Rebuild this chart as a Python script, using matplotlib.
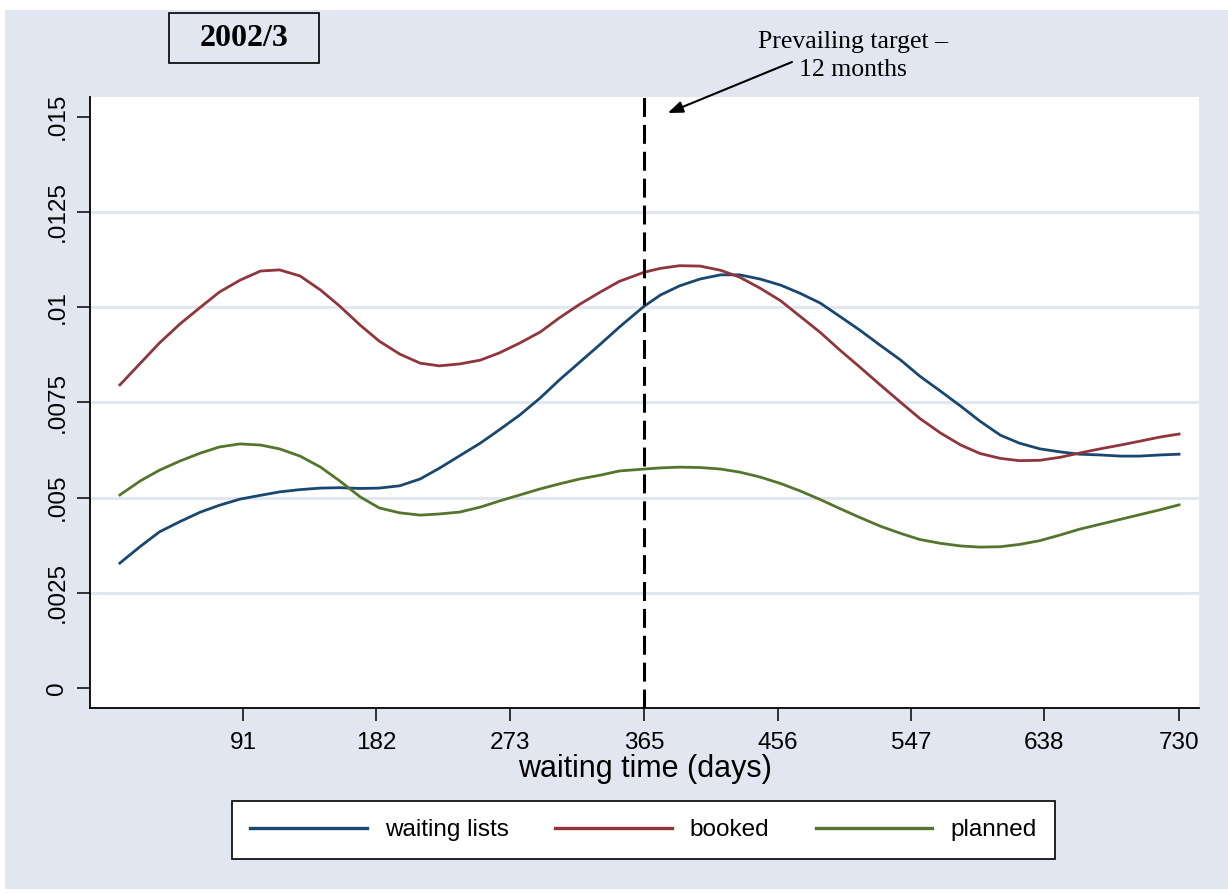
import matplotlib
matplotlib.use('Agg')
import matplotlib.pyplot as plt
from matplotlib.patches import Rectangle

# Dichtekurven 2002/3, Werte
days = [7, 21, 34, 48, 62, 75, 89, 103, 116, 130, 144, 157, 171, 184, 198, 212,
        225, 239, 253, 266, 280, 294, 307, 321, 335, 348, 365, 376, 389, 403, 417,
        430, 444, 458, 471, 485, 498, 512, 526, 540, 553, 567, 581, 594, 608, 621,
        635, 649, 662, 676, 690, 703, 717, 730]

waiting_lists = [0.00328, 0.00372, 0.0041, 0.00437, 0.00462, 0.0048, 0.00496, 0.00506,
                 0.00515, 0.00521, 0.00525, 0.00526, 0.00524, 0.00525, 0.00531, 0.00549,
                 0.00577, 0.0061, 0.00643, 0.00678, 0.00717, 0.00762, 0.00809, 0.00856,
                 0.00903, 0.00948, 0.01003, 0.01032, 0.01056, 0.01074, 0.01085, 0.01085,
                 0.01074, 0.01058, 0.01037, 0.01011, 0.00977, 0.0094, 0.009, 0.00861,
                 0.00819, 0.0078, 0.0074, 0.00701, 0.00664, 0.00643, 0.00628, 0.0062,
                 0.00614, 0.00612, 0.00609, 0.00609, 0.00612, 0.00614]

booked = [0.00796, 0.00853, 0.00906, 0.00956, 0.01, 0.0104, 0.01071, 0.01095,
          0.01098, 0.01082, 0.01045, 0.01003, 0.00953, 0.00911, 0.00877, 0.00853,
          0.00846, 0.00851, 0.00861, 0.0088, 0.00906, 0.00935, 0.00972, 0.01008,
          0.0104, 0.01068, 0.01092, 0.01102, 0.01109, 0.01108, 0.01097, 0.01079,
          0.0105, 0.01017, 0.00977, 0.00934, 0.00889, 0.00843, 0.00796, 0.0075,
          0.00708, 0.0067, 0.00638, 0.00616, 0.00603, 0.00597, 0.00598, 0.00606,
          0.00617, 0.00628, 0.00638, 0.00648, 0.00659, 0.00667]

planned = [0.00507, 0.00544, 0.00572, 0.00596, 0.00617, 0.00633, 0.00641, 0.00638,
           0.00628, 0.00609, 0.0058, 0.00544, 0.00502, 0.00473, 0.0046, 0.00454,
           0.00457, 0.00462, 0.00475, 0.00491, 0.00507, 0.00523, 0.00536, 0.00549,
           0.00559, 0.0057, 0.00575, 0.00578, 0.0058, 0.00579, 0.00575, 0.00567,
           0.00554, 0.00537, 0.00518, 0.00495, 0.00472, 0.00448, 0.00425, 0.00406,
           0.0039, 0.0038, 0.00373, 0.0037, 0.00371, 0.00377, 0.00387, 0.00402,
           0.00417, 0.0043, 0.00443, 0.00455, 0.00468, 0.00481]

x_ticks = [91, 182, 273, 365, 456, 547, 638, 730]
y_ticks = [0, 0.0025, 0.005, 0.0075, 0.01, 0.0125, 0.015]
y_labels = ['0', '.0025', '.005', '.0075', '.01', '.0125', '.015']

W, H = 1228, 894
bg = '#e1e6f0'
plt.rcParams['font.family'] = ['Liberation Sans', 'DejaVu Sans']

fig = plt.figure(figsize=(W / 100, H / 100), dpi=100)
fig.patch.set_facecolor('white')
fig.patches.append(Rectangle((5 / W, 5 / H), (W - 5) / W, (H - 15) / H,
                             transform=fig.transFigure, facecolor=bg,
                             edgecolor='none', zorder=-5))

ax = fig.add_axes([90 / W, 1 - 708 / H, (1199 - 90) / W, (708 - 97) / H])
ax.set_facecolor('white')

ax.plot(days, waiting_lists, color='#1a476f', lw=2.0, label='waiting lists', zorder=3)
ax.plot(days, booked, color='#90353b', lw=2.0, label='booked', zorder=3)
ax.plot(days, planned, color='#55752f', lw=2.0, label='planned', zorder=3)

ax.axvline(365, color='black', lw=2.2, dashes=(6.2, 2.6), zorder=4)

for yv in y_ticks[1:-1]:
    ax.axhline(yv, color='#e1e6f0', lw=2.2, zorder=1)

ax.set_xlim(-13.4, 743.6)
ax.set_ylim(-0.000525, 0.01552)
ax.set_xticks(x_ticks)
ax.set_yticks(y_ticks)
ax.set_yticklabels(y_labels)

for s in ['top', 'right']:
    ax.spines[s].set_visible(False)
for s in ['left', 'bottom']:
    ax.spines[s].set_linewidth(1.3)

ax.tick_params(axis='both', direction='out', length=9.5, width=1.1, labelsize=17.5)
ax.tick_params(axis='x', pad=8)
ax.tick_params(axis='y', pad=6, labelrotation=90)
for lab in ax.get_yticklabels():
    lab.set_va('center')

ax.set_xlabel('waiting time (days)', fontsize=22, labelpad=0)

leg = fig.legend(loc='center', bbox_to_anchor=(643.5 / W, 1 - 830 / H), ncol=3,
                 fontsize=17.5, frameon=True, fancybox=False, edgecolor='black',
                 facecolor='white', framealpha=1,
                 handlelength=4.8, handletextpad=0.75, columnspacing=1.9,
                 borderpad=0.75)
leg.get_frame().set_linewidth(1.2)
for line in leg.get_lines():
    line.set_linewidth(2.4)

# Titelkasten
fig.patches.append(Rectangle((169 / W, 1 - 63 / H), 150 / W, 50 / H,
                             transform=fig.transFigure, facecolor='none',
                             edgecolor='black', lw=1.2))
fig.text(244 / W, 1 - 39 / H, '2002/3', ha='center', va='center', fontsize=23,
         fontweight='bold', family='Liberation Serif')

fig.text(853 / W, 1 - 56 / H, 'Prevailing target \u2013\n12 months', ha='center',
         va='center', fontsize=18.5, family='Liberation Serif', linespacing=1.4)
ax.annotate('', xy=(381, 0.0151), xycoords='data',
            xytext=(792 / W, 1 - 62 / H), textcoords='figure fraction',
            annotation_clip=False,
            arrowprops=dict(arrowstyle='-|>,head_length=0.9,head_width=0.35',
                            color='black', lw=1.5, shrinkA=0, shrinkB=0))

fig.savefig('out.png', dpi=100, facecolor=fig.get_facecolor())
